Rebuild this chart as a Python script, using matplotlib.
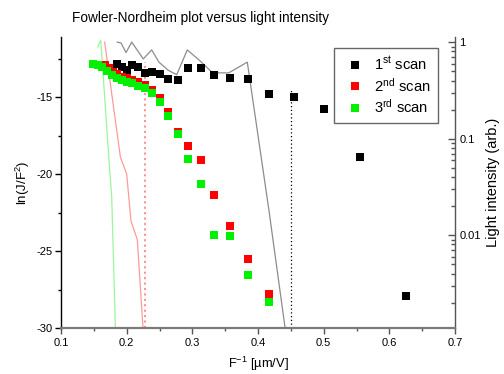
import matplotlib
matplotlib.use("Agg")
import matplotlib.pyplot as plt
from matplotlib.ticker import FixedLocator, FuncFormatter, LogLocator, NullFormatter, MultipleLocator

plt.rcParams['font.family'] = ['Liberation Sans', 'DejaVu Sans']
plt.rcParams['mathtext.fontset'] = 'custom'
plt.rcParams['mathtext.rm'] = 'Liberation Sans'
plt.rcParams['mathtext.it'] = 'Liberation Sans:italic'
plt.rcParams['axes.unicode_minus'] = False

# ---- data: ln(J/F^2) versus F^-1 ----
x_scan1 = [0.625, 0.556, 0.5, 0.4545, 0.4167, 0.3846, 0.3571, 0.3333, 0.3125, 0.2941,
           0.2778, 0.2632, 0.25, 0.2381, 0.2273, 0.2174, 0.2083, 0.2, 0.1923, 0.1852]
y_scan1 = [-27.9, -18.9, -15.75, -15.0, -14.8, -13.85, -13.77, -13.6, -13.12, -13.12,
           -13.9, -13.8, -13.53, -13.38, -13.46, -13.07, -12.92, -13.25, -13.03, -12.88]

x_scan2 = [0.1665, 0.1724, 0.1786, 0.1852, 0.1923, 0.2, 0.2083, 0.2174, 0.2273, 0.2381,
           0.25, 0.2632, 0.2778, 0.2941, 0.3125, 0.3333, 0.3571, 0.3846, 0.4167]
y_scan2 = [-12.92, -13.12, -13.36, -13.5, -13.68, -13.79, -13.9, -14.0, -14.22, -14.55,
           -15.05, -15.96, -17.25, -18.16, -19.11, -21.38, -23.36, -25.5, -27.81]

x_scan3 = [0.1492, 0.1559, 0.1629, 0.17, 0.1772, 0.1848, 0.1923, 0.2, 0.2083, 0.2174,
           0.2273, 0.2381, 0.25, 0.2632, 0.2778, 0.2941, 0.3125, 0.3333, 0.3571, 0.3846, 0.4167]
y_scan3 = [-12.88, -12.94, -13.03, -13.29, -13.57, -13.75, -13.9, -14.0, -14.11, -14.29,
           -14.44, -14.72, -15.31, -16.23, -17.42, -19.05, -20.63, -23.94, -24.05, -26.58, -28.33]

# ---- data: light intensity (right axis) ----
x_light1 = [0.1857, 0.1914, 0.199, 0.2077, 0.2253, 0.2381, 0.2492, 0.2634, 0.2762,
            0.2923, 0.3106, 0.331, 0.3554, 0.3837, 0.4167, 0.4545]
i_light1 = [1.0, 0.98, 0.78, 1.0, 0.67, 0.83, 0.62, 0.51, 0.46,
            0.83, 0.65, 0.48, 0.48, 0.62, 0.018, 0.00024]

x_light2 = [0.1665, 0.1905, 0.2, 0.2066, 0.2162, 0.2273]
i_light2 = [1.0, 0.064, 0.043, 0.014, 0.009, 0.0006]

x_light3 = [0.1559, 0.1605, 0.1746, 0.1772, 0.1852]
i_light3 = [0.89, 1.05, 0.043, 0.025, 0.0003]

# threshold markers (dotted verticals)
thr_x = [0.228, 0.45]
thr_top = [-12.7, -14.44]

labels = [r'1$^{\mathrm{st}}$ scan', r'2$^{\mathrm{nd}}$ scan', r'3$^{\mathrm{rd}}$ scan']

fig = plt.figure(figsize=(5.04, 3.74), dpi=100)
ax = fig.add_axes([61/504, 46/374, 394/504, 291/374])
ax2 = ax.twinx()
ax.set_zorder(ax2.get_zorder() + 1)
ax.patch.set_visible(False)

# light intensity lines
ax2.plot(x_light1, i_light1, color='#8c8c8c', lw=0.9)
ax2.plot(x_light2, i_light2, color='#ff9a9a', lw=0.9)
ax2.plot(x_light3, i_light3, color='#9cf59c', lw=0.9)
ax2.set_yscale('log')
ax2.set_ylim(0.00109, 1.13)

# dotted thresholds
ax.vlines(thr_x[0], -30, thr_top[0], colors='#ff8a8a', linestyles=(0, (1.2, 1.8)), lw=1.3)
ax.vlines(thr_x[1], -30, thr_top[1], colors='black', linestyles=(0, (1, 2)), lw=0.9)

ms = 5.2
h1, = ax.plot(x_scan1, y_scan1, 's', color='black', ms=ms, mew=0, label=labels[0])
h2, = ax.plot(x_scan2, y_scan2, 's', color='#ff0000', ms=ms, mew=0, label=labels[1])
h3, = ax.plot(x_scan3, y_scan3, 's', color='#00f000', ms=ms, mew=0, label=labels[2])

ax.set_xlim(0.1, 0.7)
ax.set_ylim(-30, -11.1)

ax.xaxis.set_major_locator(FixedLocator([0.1, 0.2, 0.3, 0.4, 0.5, 0.6, 0.7]))
ax.xaxis.set_minor_locator(MultipleLocator(0.05))
ax.xaxis.set_major_formatter(FuncFormatter(lambda v, p: f'{v:.1f}'))
ax.yaxis.set_major_locator(FixedLocator([-15, -20, -25, -30]))
ax.yaxis.set_minor_locator(FixedLocator([-12.5, -17.5, -22.5, -27.5]))
ax.yaxis.set_major_formatter(FuncFormatter(lambda v, p: f'{int(v)}'))

ax2.yaxis.set_major_locator(FixedLocator([0.01, 0.1, 1]))
ax2.yaxis.set_minor_locator(LogLocator(base=10, subs=[2, 3, 4, 5, 6, 7, 8, 9], numticks=20))
ax2.yaxis.set_major_formatter(FuncFormatter(lambda v, p: f'{v:g}'))
ax2.yaxis.set_minor_formatter(NullFormatter())

for a in (ax, ax2):
    a.spines['top'].set_visible(False)
ax.spines['right'].set_visible(False)
ax.spines['left'].set_color('black')
ax.spines['left'].set_linewidth(1.0)
ax.spines['bottom'].set_color('#7a7a7a')
ax.spines['bottom'].set_linewidth(1.6)
ax2.spines['left'].set_visible(False)
ax2.spines['bottom'].set_visible(False)
ax2.spines['right'].set_color('#555555')
ax2.spines['right'].set_linewidth(1.0)

ax.tick_params(axis='x', which='major', direction='out', length=4, width=1, color='#555555', labelsize=8, pad=3)
ax.tick_params(axis='x', which='minor', direction='out', length=2.5, width=1, color='#555555')
ax.tick_params(axis='y', which='major', direction='out', length=4, width=1, color='black', labelsize=8, pad=2)
ax.tick_params(axis='y', which='minor', direction='out', length=2.5, width=1, color='black')
ax2.tick_params(axis='y', which='major', direction='in', length=5, width=1, color='#555555', labelsize=8, pad=3)
ax2.tick_params(axis='y', which='minor', direction='in', length=3, width=1, color='#555555')

ax.set_xlabel(r'F$^{-1}$ [µm/V]', fontsize=9.3, labelpad=5)
ax.set_ylabel(r'ln(J/F$^{2}$)', fontsize=9.5, labelpad=3)
ax2.set_ylabel('Light intensity (arb.)', fontsize=10.5, labelpad=4)

fig.text(72/504, 1 - 18/374, 'Fowler-Nordheim plot versus light intensity', fontsize=9.8,
         ha='left', va='center')

leg = ax.legend(handles=[h1, h2, h3], loc='upper left', bbox_to_anchor=(334/504, 1 - 48/374),
                bbox_transform=fig.transFigure, fontsize=10.6, frameon=True, fancybox=False,
                edgecolor='#404040', borderpad=0.5, labelspacing=0.25, handlelength=1.9,
                handletextpad=0.35, borderaxespad=0, markerscale=1.0)
leg.get_frame().set_linewidth(1.0)

fig.savefig('out.png', dpi=100)
